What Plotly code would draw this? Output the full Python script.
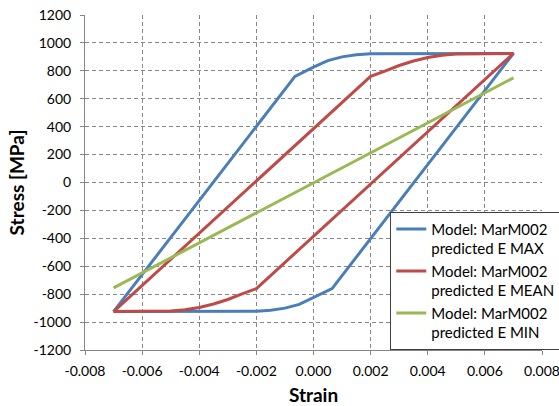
import plotly.graph_objects as go

# Hysteresis loops: strain [-] vs stress [MPa]
strain_max = [-0.007, -0.00065, 0.0, 0.0005, 0.001, 0.0015, 0.002, 0.007,
              0.00065, 0.0, -0.0005, -0.001, -0.0015, -0.002, -0.007]
stress_max = [-925, 760, 827, 873, 900, 915, 922, 925,
              -760, -827, -873, -900, -915, -922, -925]

strain_mean = [-0.007, 0.002, 0.0025, 0.003, 0.0035, 0.004, 0.0045, 0.005, 0.007,
               -0.002, -0.0025, -0.003, -0.0035, -0.004, -0.0045, -0.005, -0.007]
stress_mean = [-925, 760, 798, 838, 870, 895, 912, 920, 925,
               -760, -798, -838, -870, -895, -912, -920, -925]

strain_min = [-0.007, 0.007, -0.007]
stress_min = [-755, 750, -755]

series_names = ["Model: MarM002<br>predicted E MAX",
                "Model: MarM002<br>predicted E MEAN",
                "Model: MarM002<br>predicted E MIN"]

x_ticks = [-0.008, -0.006, -0.004, -0.002, 0.0, 0.002, 0.004, 0.006, 0.008]
x_tick_text = ["-0.008", "-0.006", "-0.004", "-0.002", "0.000",
               "0.002", "0.004", "0.006", "0.008"]
y_ticks = [-1200, -1000, -800, -600, -400, -200, 0, 200, 400, 600, 800, 1000, 1200]
y_tick_text = ["-1200", "-1000", "-800", "-600", "-400", "-200", "0",
               "200", "400", "600", "800", "1000", "1200"]

colors = ["#4A7EBB", "#BE4B48", "#98B954"]
FONT = "Lato"

fig = go.Figure()
for xs, ys, name, c in zip([strain_max, strain_mean, strain_min],
                           [stress_max, stress_mean, stress_min],
                           series_names, colors):
    fig.add_trace(go.Scatter(x=xs, y=ys, mode="lines", name=name,
                             line=dict(color=c, width=3)))

axis_common = dict(
    showgrid=True, gridcolor="#878787", griddash="4px,3px", gridwidth=1,
    showline=True, linecolor="#868686", linewidth=1,
    ticks="outside", ticklen=4, tickcolor="#868686",
    zeroline=False, tickfont=dict(family=FONT, size=14, color="#000000"),
    ticklabeloverflow="allow",
)

fig.update_xaxes(range=[-0.008, 0.008], tickvals=x_ticks, ticktext=x_tick_text,
                 ticklabelstandoff=4,
                 title=dict(text="<b>Strain</b>", font=dict(family=FONT, size=19, color="#000000"),
                            standoff=12),
                 **axis_common)
fig.update_yaxes(range=[-1200, 1200], tickvals=y_ticks, ticktext=y_tick_text,
                 ticklabelstandoff=6,
                 title=dict(text="<b>Stress [MPa]</b>", font=dict(family=FONT, size=19, color="#000000"),
                            standoff=3),
                 **axis_common)

fig.update_layout(
    width=559, height=406,
    margin=dict(l=85, r=17, t=15, b=56, autoexpand=False),
    paper_bgcolor="white", plot_bgcolor="white",
    legend=dict(x=0.668, y=0.413, xanchor="left", yanchor="top",
                bgcolor="white", bordercolor="#404040", borderwidth=1,
                font=dict(family=FONT, size=15, color="#000000"),
                valign="top", tracegroupgap=0),
    showlegend=True,
)

fig.write_html("out.html")
